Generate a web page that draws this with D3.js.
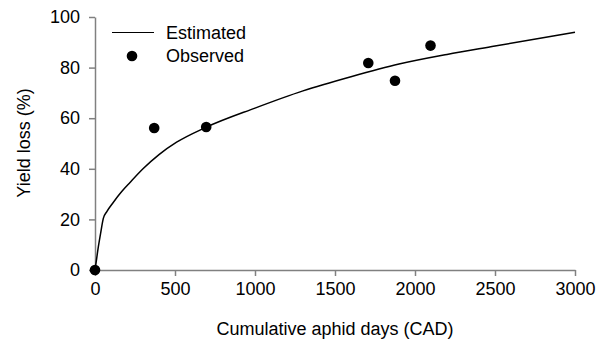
<!DOCTYPE html>
<html><head><meta charset="utf-8">
<script src="https://cdn.jsdelivr.net/npm/d3@7"></script>
<style>
html,body{margin:0;padding:0;background:#fff;}
svg{display:block;font-family:Arial,"Liberation Sans",sans-serif;}
</style></head>
<body>
<svg id="chart" width="602" height="343"></svg>
<script>
// Estimated curve
const estX = [0, 6, 21, 35, 52, 73, 115, 167, 219, 300, 400, 510, 690, 1000, 1300, 1600, 1900, 2200, 2500, 2800, 3000];
const estY = [0, 2.6, 9.2, 14.5, 20.4, 23, 26.8, 31, 34.6, 40, 45.6, 50.5, 56.3, 64, 70.8, 76.4, 81.4, 85.2, 88.5, 91.8, 94];
// Observed points
const obsX = [0, 370, 695, 1708, 1875, 2097];
const obsY = [0, 56.1, 56.5, 81.8, 74.8, 88.7];
const xTicks = [0, 500, 1000, 1500, 2000, 2500, 3000];
const yTicks = [0, 20, 40, 60, 80, 100];
const legendLabels = ["Estimated", "Observed"];

const svg = d3.select("#chart");
const x = d3.scaleLinear().domain([0, 3000]).range([95, 575]);
const y = d3.scaleLinear().domain([0, 100]).range([270, 17]);
const axisColor = "#808080";

const xAxis = svg.append("g").attr("transform", "translate(0,270)")
  .call(d3.axisBottom(x).tickValues(xTicks).tickFormat(d3.format("d")).tickSize(6).tickPadding(6).tickSizeOuter(0));
const yAxis = svg.append("g").attr("transform", "translate(95,0)")
  .call(d3.axisLeft(y).tickValues(yTicks).tickFormat(d3.format("d")).tickSize(6).tickPadding(9).tickSizeOuter(0));
[xAxis, yAxis].forEach(g => {
  g.selectAll("path.domain").attr("stroke", axisColor).attr("stroke-width", 1.5);
  g.selectAll(".tick line").attr("stroke", axisColor).attr("stroke-width", 1.5);
  g.selectAll(".tick text").attr("fill", "#000").style("font-size", "18px").style("font-family", "Arial, 'Liberation Sans', sans-serif");
});
xAxis.selectAll(".tick text").attr("dy", "0.71em");

// Axis titles
svg.append("text").attr("x", 335).attr("y", 335).attr("text-anchor", "middle")
  .style("font-size", "18px").text("Cumulative aphid days (CAD)");
svg.append("text").attr("transform", "translate(30,143) rotate(-90)").attr("text-anchor", "middle")
  .style("font-size", "18px").text("Yield loss (%)");

// Estimated line
const lineData = estX.map((d, i) => [d, estY[i]]);
svg.append("path").datum(lineData)
  .attr("fill", "none").attr("stroke", "#000").attr("stroke-width", 1.5)
  .attr("d", d3.line().x(d => x(d[0])).y(d => y(d[1])).curve(d3.curveMonotoneX));

// Observed points
svg.selectAll("circle.obs").data(obsX.map((d, i) => [d, obsY[i]])).enter()
  .append("circle").attr("class", "obs")
  .attr("cx", d => x(d[0])).attr("cy", d => y(d[1])).attr("r", 5.3).attr("fill", "#000");

// Legend
const lg = svg.append("g");
lg.append("line").attr("x1", 112).attr("x2", 154).attr("y1", 32.5).attr("y2", 32.5)
  .attr("stroke", "#000").attr("stroke-width", 1.2);
lg.append("text").attr("x", 166).attr("y", 38.5).style("font-size", "18px").text(legendLabels[0]);
lg.append("circle").attr("cx", 132).attr("cy", 56).attr("r", 5.3).attr("fill", "#000");
lg.append("text").attr("x", 166).attr("y", 62).style("font-size", "18px").text(legendLabels[1]);
</script>
</body></html>
